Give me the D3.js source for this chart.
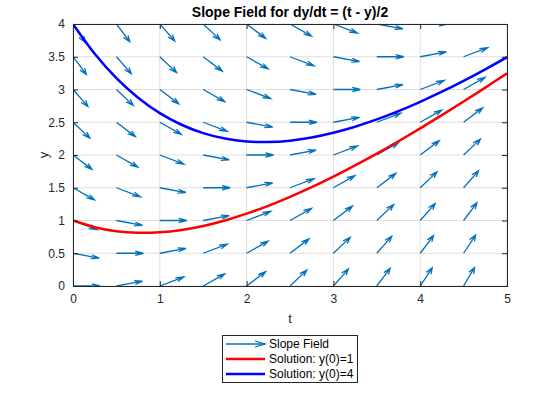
<!DOCTYPE html>
<html>
<head>
<meta charset="utf-8">
<script src="https://cdn.jsdelivr.net/npm/d3@7"></script>
<style>
  body { margin: 0; background: #fff; }
  svg text { font-family: "Liberation Sans", Arial, sans-serif; }
</style>
</head>
<body>
<div id="chart"></div>
<script>
// grid of the slope field
const tGrid = [0, 0.5, 1, 1.5, 2, 2.5, 3, 3.5, 4, 4.5, 5];
const yGrid = [0, 0.5, 1, 1.5, 2, 2.5, 3, 3.5, 4];

// slope dy/dt at each grid point, one row per y value
const slopes = [
    [0, 0.25, 0.5, 0.75, 1, 1.25, 1.5, 1.75, 2, 2.25, 2.5],
    [-0.25, 0, 0.25, 0.5, 0.75, 1, 1.25, 1.5, 1.75, 2, 2.25],
    [-0.5, -0.25, 0, 0.25, 0.5, 0.75, 1, 1.25, 1.5, 1.75, 2],
    [-0.75, -0.5, -0.25, 0, 0.25, 0.5, 0.75, 1, 1.25, 1.5, 1.75],
    [-1, -0.75, -0.5, -0.25, 0, 0.25, 0.5, 0.75, 1, 1.25, 1.5],
    [-1.25, -1, -0.75, -0.5, -0.25, 0, 0.25, 0.5, 0.75, 1, 1.25],
    [-1.5, -1.25, -1, -0.75, -0.5, -0.25, 0, 0.25, 0.5, 0.75, 1],
    [-1.75, -1.5, -1.25, -1, -0.75, -0.5, -0.25, 0, 0.25, 0.5, 0.75],
    [-2, -1.75, -1.5, -1.25, -1, -0.75, -0.5, -0.25, 0, 0.25, 0.5]
];

// solution curves
const tSol = [0, 0.25, 0.5, 0.75, 1, 1.25, 1.5, 1.75, 2, 2.25, 2.5,
              2.75, 3, 3.25, 3.5, 3.75, 4, 4.25, 4.5, 4.75, 5];
const ySol1 = [1, 0.898, 0.836, 0.812, 0.820, 0.856, 0.917, 1.001, 1.104, 1.224, 1.360,
               1.508, 1.669, 1.841, 2.021, 2.210, 2.406, 2.608, 2.816, 3.029, 3.246];
const ySol4 = [4, 3.545, 3.173, 2.874, 2.639, 2.462, 2.334, 2.251, 2.207, 2.198, 2.219,
               2.267, 2.339, 2.431, 2.543, 2.670, 2.812, 2.966, 3.132, 3.308, 3.493];

const xTicks = [0, 1, 2, 3, 4, 5];
const yTicks = [0, 0.5, 1, 1.5, 2, 2.5, 3, 3.5, 4];
const legendLabels = ["Slope Field", "Solution: y(0)=1", "Solution: y(0)=4"];

const W = 560, H = 420;
const margin = {top: 24, right: 53, bottom: 134, left: 73};
const width = W - margin.left - margin.right;
const height = H - margin.top - margin.bottom;

const arrowColor = "#0072BD";
const arrowLen = 0.31;

const svg = d3.select("#chart").append("svg")
    .attr("width", W)
    .attr("height", H);

const g = svg.append("g")
    .attr("transform", "translate(" + margin.left + "," + margin.top + ")");

const x = d3.scaleLinear().domain([0, 5]).range([0, width]);
const y = d3.scaleLinear().domain([0, 4]).range([height, 0]);

// grid lines
g.append("g")
    .selectAll("line.gx")
    .data(xTicks)
    .join("line")
    .attr("x1", d => x(d)).attr("x2", d => x(d))
    .attr("y1", 0).attr("y2", height)
    .attr("stroke", "#dfdfdf").attr("stroke-width", 1);

g.append("g")
    .selectAll("line.gy")
    .data(yTicks)
    .join("line")
    .attr("y1", d => y(d)).attr("y2", d => y(d))
    .attr("x1", 0).attr("x2", width)
    .attr("stroke", "#dfdfdf").attr("stroke-width", 1);

svg.append("clipPath").attr("id", "clip")
    .append("rect")
    .attr("x", 0).attr("y", 0)
    .attr("width", width).attr("height", height);

const plot = g.append("g").attr("clip-path", "url(#clip)");

// arrows
let arrows = [];
yGrid.forEach((yv, i) => {
    tGrid.forEach((tv, j) => {
        let s = slopes[i][j];
        let n = Math.sqrt(1 + s * s);
        arrows.push({t: tv, y: yv, u: arrowLen / n, v: arrowLen * s / n});
    });
});

// MATLAB style open arrow heads, built in data space
const alpha = 0.3, beta = 0.33;
function arrowPath(d) {
    let x0 = d.t, y0 = d.y, x1 = d.t + d.u, y1 = d.y + d.v;
    let hx1 = x1 - alpha * (d.u + beta * d.v);
    let hy1 = y1 - alpha * (d.v - beta * d.u);
    let hx2 = x1 - alpha * (d.u - beta * d.v);
    let hy2 = y1 - alpha * (d.v + beta * d.u);
    return "M" + x(x0) + "," + y(y0) + "L" + x(x1) + "," + y(y1) +
        "M" + x(hx1) + "," + y(hy1) + "L" + x(x1) + "," + y(y1) + "L" + x(hx2) + "," + y(hy2);
}

plot.append("g")
    .selectAll("path")
    .data(arrows)
    .join("path")
    .attr("d", arrowPath)
    .attr("fill", "none")
    .attr("stroke", arrowColor)
    .attr("stroke-width", 1.3);

const line = d3.line()
    .x(d => x(d[0]))
    .y(d => y(d[1]))
    .curve(d3.curveCatmullRom);

plot.append("path")
    .datum(tSol.map((t, i) => [t, ySol1[i]]))
    .attr("d", line)
    .attr("fill", "none")
    .attr("stroke", "#ff0000")
    .attr("stroke-width", 2.5);

plot.append("path")
    .datum(tSol.map((t, i) => [t, ySol4[i]]))
    .attr("d", line)
    .attr("fill", "none")
    .attr("stroke", "#0000ff")
    .attr("stroke-width", 2.5);

// axes with box
const fmt = d3.format("~g");
const xAxis = g.append("g")
    .attr("transform", "translate(0," + height + ")")
    .call(d3.axisBottom(x).tickValues(xTicks).tickSize(-5).tickPadding(8).tickFormat(fmt));
const xTop = g.append("g")
    .call(d3.axisTop(x).tickValues(xTicks).tickSize(-5).tickFormat(""));
const yAxis = g.append("g")
    .call(d3.axisLeft(y).tickValues(yTicks).tickSize(-5).tickPadding(8).tickFormat(fmt));
const yRight = g.append("g")
    .attr("transform", "translate(" + width + ",0)")
    .call(d3.axisRight(y).tickValues(yTicks).tickSize(-5).tickFormat(""));

[xAxis, xTop, yAxis, yRight].forEach(a => {
    a.select(".domain").attr("stroke", "#262626").attr("stroke-width", 1);
    a.selectAll(".tick line").attr("stroke", "#262626");
    a.selectAll("text").attr("fill", "#262626").style("font-size", "12px");
});

// labels
svg.append("text")
    .attr("x", margin.left + width / 2)
    .attr("y", 17)
    .attr("text-anchor", "middle")
    .style("font-size", "14px")
    .style("font-weight", "bold")
    .attr("fill", "#000")
    .text("Slope Field for dy/dt = (t - y)/2");

svg.append("text")
    .attr("x", margin.left + width / 2)
    .attr("y", 323)
    .attr("text-anchor", "middle")
    .style("font-size", "13px")
    .attr("fill", "#262626")
    .text("t");

svg.append("text")
    .attr("transform", "translate(48," + (margin.top + height / 2) + ") rotate(-90)")
    .attr("text-anchor", "middle")
    .style("font-size", "13px")
    .attr("fill", "#262626")
    .text("y");

// legend
const legend = svg.append("g").attr("transform", "translate(222,335)");
legend.append("rect")
    .attr("x", 0.5).attr("y", 0.5)
    .attr("width", 135).attr("height", 47)
    .attr("fill", "#fff")
    .attr("stroke", "#262626");

const legendStyles = [
    {color: arrowColor, w: 1.3},
    {color: "#ff0000", w: 2.5},
    {color: "#0000ff", w: 2.5}
];

legendLabels.forEach((label, i) => {
    let ly = 9 + i * 15;
    legend.append("line")
        .attr("x1", 4).attr("x2", 43)
        .attr("y1", ly).attr("y2", ly)
        .attr("stroke", legendStyles[i].color)
        .attr("stroke-width", legendStyles[i].w);
    if (i === 0) {
        legend.append("path")
            .attr("d", "M33," + (ly - 3) + "L43," + ly + "L33," + (ly + 3))
            .attr("fill", "none")
            .attr("stroke", arrowColor)
            .attr("stroke-width", 1.3);
    }
    legend.append("text")
        .attr("x", 47)
        .attr("y", ly + 4)
        .style("font-size", "12px")
        .attr("fill", "#000")
        .text(label);
});
</script>
</body>
</html>
